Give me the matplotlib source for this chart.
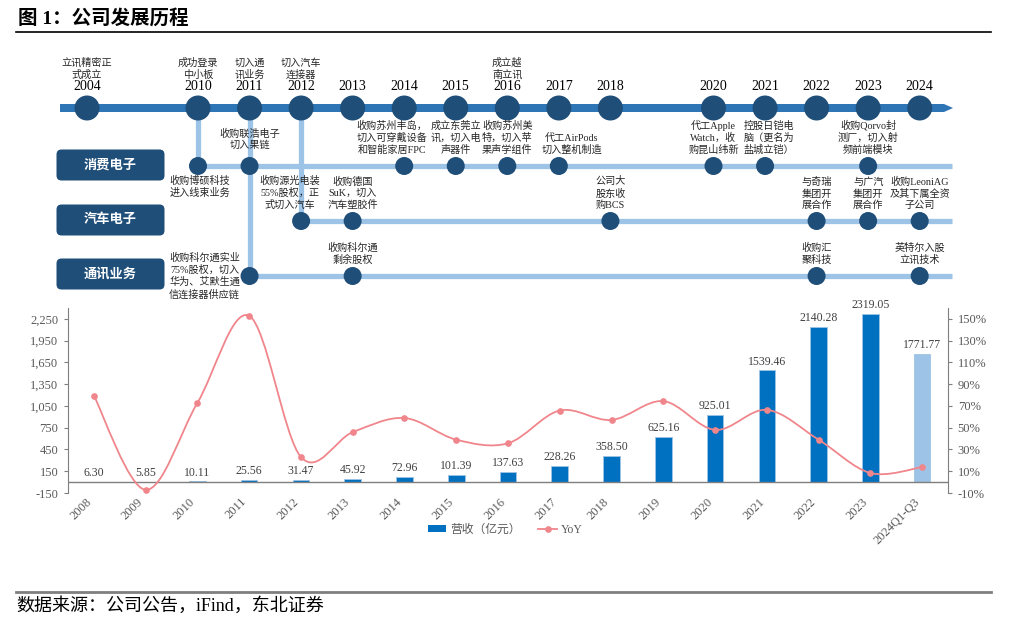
import matplotlib
matplotlib.use('Agg')
import matplotlib.pyplot as plt
import matplotlib.transforms as mtransforms
from matplotlib.patches import Circle, FancyBboxPatch, Polygon, Patch, PathPatch
from matplotlib.lines import Line2D
from matplotlib.path import Path

plt.rcParams['font.family'] = ['Liberation Serif', 'Noto Sans CJK SC', 'DejaVu Sans']

# ---- bar chart data ----
periods = ['2008', '2009', '2010', '2011', '2012', '2013', '2014', '2015', '2016',
           '2017', '2018', '2019', '2020', '2021', '2022', '2023', '2024Q1-Q3']
revenue = [6.30, 5.85, 10.11, 25.56, 31.47, 45.92, 72.96, 101.39, 137.63,
           228.26, 358.50, 625.16, 925.01, 1539.46, 2140.28, 2319.05, 1771.77]
yoy = [79.4, -7.1, 72.8, 152.8, 23.1, 45.9, 58.9, 39.0, 35.7,
       65.8, 57.1, 74.4, 48.0, 66.4, 39.0, 8.4, 13.8]
left_ticks = [-150, 150, 450, 750, 1050, 1350, 1650, 1950, 2250]
right_ticks = [-10, 10, 30, 50, 70, 90, 110, 130, 150]

# ---- timeline data ----
timeline_years = [2004, 2010, 2011, 2012, 2013, 2014, 2015, 2016, 2017, 2018,
                  2020, 2021, 2022, 2023, 2024]
milestones = {2004: '立讯精密正\n式成立', 2010: '成功登录\n中小板', 2011: '切入通\n讯业务',
              2012: '切入汽车\n连接器', 2016: '成立越\n南立讯'}
segments = ['消费电子', '汽车电子', '通讯业务']
segment_start = [2010, 2012, 2011]
consumer_events = [(2010, '收购博硕科技\n进入线束业务'),
                   (2011, '收购联浩电子\n切入果链'),
                   (2014, '收购苏州丰岛，\n切入可穿戴设备\n和智能家居FPC'),
                   (2015, '成立东莞立\n讯，切入电\n声器件'),
                   (2016, '收购苏州美\n特，切入苹\n果声学组件'),
                   (2017, '代工AirPods\n切入整机制造'),
                   (2020, '代工Apple\nWatch，收\n购昆山纬新'),
                   (2021, '控股日铠电\n脑（更名为\n盐城立铠）'),
                   (2023, '收购Qorvo封\n测厂，切入射\n频前端模块')]
auto_events = [(2012, '收购源光电装\n55%股权，正\n式切入汽车'),
               (2013, '收购德国\nSuK，切入\n汽车塑胶件'),
               (2018, '公司大\n股东收\n购BCS'),
               (2022, '与奇瑞\n集团开\n展合作'),
               (2023, '与广汽\n集团开\n展合作'),
               (2024, '收购LeoniAG\n及其下属全资\n子公司')]
comm_events = [(2011, '收购科尔通实业\n75%股权，切入\n华为、艾默生通\n信连接器供应链'),
               (2013, '收购科尔通\n剩余股权'),
               (2022, '收购汇\n聚科技'),
               (2024, '英特尔入股\n立讯技术')]

DARK = '#1F4E79'
MID = '#2E75B6'
LIGHT = '#9DC3E6'
TXT = '#262626'
GRAY = '#595959'

fig = plt.figure(figsize=(10.16, 6.27), dpi=100)

# overlay axes in pixel units for the timeline part
tl = fig.add_axes([0, 0, 1, 1])
tl.set_xlim(0, 1016)
tl.set_ylim(627, 0)
tl.axis('off')


def tx(year):
    if year < 2010:
        return 87
    return 198 + (year - 2010) * 51.55


MAIN_Y = 108
LINE_Y = [166, 221, 276]
END_X = 952

# title and rules
tl.text(18, 18, '图 1：公司发展历程', fontsize=14, fontweight='bold', ha='left', va='center')
tl.plot([16, 991], [32, 32], color='black', lw=1.2)
tl.plot([16, 991], [592, 592], color='#7F7F7F', lw=2)
tl.text(16, 606, '数据来源：公司公告，iFind，东北证券', fontsize=13, ha='left', va='center')

# segment branch lines
for k, start in enumerate(segment_start):
    tl.plot([tx(start), tx(start)], [MAIN_Y, LINE_Y[k]], color=LIGHT, lw=3.8,
            solid_capstyle='butt', zorder=1)
    tl.plot([tx(start), END_X], [LINE_Y[k], LINE_Y[k]], color=LIGHT, lw=3.8,
            solid_capstyle='butt', zorder=1)

# main timeline arrow
tl.add_patch(Polygon([(60, 104), (944, 104), (953, MAIN_Y), (944, 112), (60, 112)],
                     closed=True, facecolor=MID, edgecolor='none', zorder=2))
for yr in timeline_years:
    tl.add_patch(Circle((tx(yr), MAIN_Y), 12.5, facecolor=DARK, edgecolor='none', zorder=3))
    tl.text(tx(yr), 87, str(yr), fontsize=10, ha='center', va='center', color='black')
    if yr in milestones:
        tl.text(tx(yr), 80, milestones[yr], fontsize=7.3, ha='center', va='bottom',
                color=TXT, multialignment='center', linespacing=1.25)

# segment boxes
for k, name in enumerate(segments):
    yc = LINE_Y[k] - 1 if k < 2 else LINE_Y[k] - 2
    tl.add_patch(FancyBboxPatch((58, yc - 14), 105, 28,
                                boxstyle='round,pad=1.5,rounding_size=5',
                                facecolor=DARK, edgecolor='none', zorder=2))
    tl.text(110, yc, name, fontsize=9.5, fontweight='bold', color='white',
            ha='center', va='center', zorder=3)

nudge = {(0, 2014): (-12, 0), (0, 2017): (13, 0), (0, 2021): (4, 0), (0, 2011): (0, -5),
         (1, 2012): (-11, 0)}

for k, events in enumerate([consumer_events, auto_events, comm_events]):
    ly = LINE_Y[k]
    for yr, label in events:
        x = tx(yr)
        tl.add_patch(Circle((x, ly), 9, facecolor=DARK, edgecolor='none', zorder=3))
        dx, dy = nudge.get((k, yr), (0, 0))
        if k == 0 and yr == 2010:
            tl.text(x + 2, ly + 10, label, fontsize=7.3, ha='center', va='top', color=TXT,
                    multialignment='center', linespacing=1.25, zorder=4)
        elif k == 2 and yr == 2011:
            tl.text(x - 45, ly + 0, label, fontsize=7.3, ha='center', va='center', color=TXT,
                    multialignment='center', linespacing=1.25, zorder=4)
        else:
            tl.text(x + dx, ly - 11 + dy, label, fontsize=7.3, ha='center', va='bottom',
                    color=TXT, multialignment='center', linespacing=1.25, zorder=4)

# ---- revenue / yoy chart ----
ax = fig.add_axes([68 / 1016, 134 / 627, 880 / 1016, 185 / 627])
ax.set_facecolor('none')
xs = list(range(len(periods)))
colors = ['#0070C0'] * (len(periods) - 1) + [LIGHT]
ax.bar(xs, revenue, width=0.32, color=colors, edgecolor=LIGHT, linewidth=0.6, zorder=2)
for i, v in enumerate(revenue):
    ax.annotate(f'{v:.2f}', (i, v), xytext=(0, 2), textcoords='offset points',
                ha='center', va='bottom', fontsize=8.5, color='#404040')
ax.set_xlim(-0.5, len(periods) - 0.5)
ax.set_ylim(-150, 2400)
ax.set_yticks(left_ticks)
ax.set_yticklabels([f'{t:,}' for t in left_ticks])
ax.axhline(0, color='#7F7F7F', lw=1, zorder=3)
ax.set_xticks(xs)
ax.set_xticklabels(periods, rotation=45, ha='right', va='top')
offset = mtransforms.ScaledTranslation(5 / 100, 0, fig.dpi_scale_trans)
for lab in ax.get_xticklabels():
    lab.set_transform(lab.get_transform() + offset)
ax.tick_params(axis='x', length=0, pad=2, labelsize=9, labelcolor=GRAY)
ax.tick_params(axis='y', length=3, color='#7F7F7F', labelsize=9, labelcolor=GRAY, pad=4)
for s in ['top', 'right', 'bottom']:
    ax.spines[s].set_visible(False)
ax.spines['left'].set_color('#7F7F7F')

ax2 = ax.twinx()
ax2.set_ylim(-10, 160)
ax2.set_yticks(right_ticks)
ax2.set_yticklabels([f'{t}%' for t in right_ticks])
ax2.tick_params(axis='y', length=3, color='#7F7F7F', labelsize=9, labelcolor=GRAY, pad=4)
for s in ['top', 'left', 'bottom']:
    ax2.spines[s].set_visible(False)
ax2.spines['right'].set_color('#7F7F7F')

# smooth curve through the yoy points (cubic bezier, catmull-rom style)
PINK = '#F0868C'
pts = list(zip(xs, yoy))
verts = [pts[0]]
codes = [Path.MOVETO]
for i in range(len(pts) - 1):
    p0 = pts[i - 1] if i > 0 else pts[i]
    p1 = pts[i]
    p2 = pts[i + 1]
    p3 = pts[i + 2] if i + 2 < len(pts) else pts[i + 1]
    c1 = (p1[0] + (p2[0] - p0[0]) / 6, p1[1] + (p2[1] - p0[1]) / 6)
    c2 = (p2[0] - (p3[0] - p1[0]) / 6, p2[1] - (p3[1] - p1[1]) / 6)
    verts += [c1, c2, p2]
    codes += [Path.CURVE4] * 3
ax2.add_patch(PathPatch(Path(verts, codes), facecolor='none', edgecolor=PINK, lw=1.3, zorder=4))
ax2.plot(xs, yoy, linestyle='none', marker='o', markersize=3.8, color=PINK, zorder=5)

handles = [Patch(facecolor='#0070C0', edgecolor='none'),
           Line2D([0], [0], color=PINK, lw=1.3, marker='o', markersize=3.8)]
fig.legend(handles, ['营收（亿元）', 'YoY'], loc='center', bbox_to_anchor=(505 / 1016, 1 - 530 / 627),
           ncol=2, frameon=False, fontsize=8.5, labelcolor=GRAY, handlelength=1.6,
           handleheight=0.5, columnspacing=1.5, handletextpad=0.3)

fig.savefig('out.png', dpi=100)
